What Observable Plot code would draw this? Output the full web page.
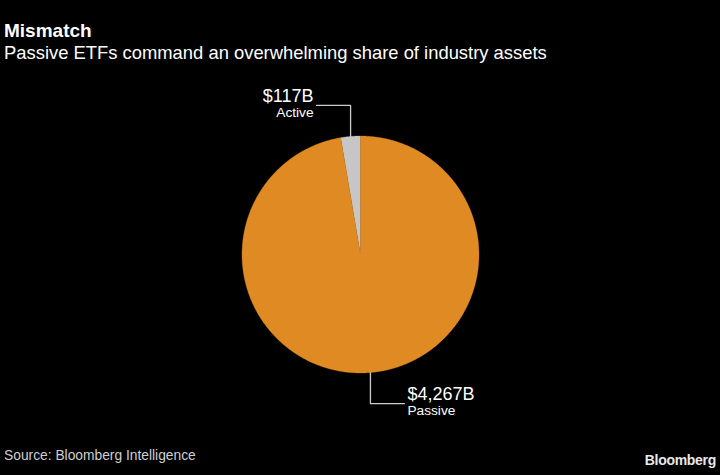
<!DOCTYPE html>
<html><head><meta charset="utf-8">
<script src="https://cdn.jsdelivr.net/npm/d3@7"></script>
<script src="https://cdn.jsdelivr.net/npm/@observablehq/plot@0.6"></script>
<style>
html,body{margin:0;padding:0;background:#000;}
body{width:720px;height:475px;overflow:hidden;font-family:"Liberation Sans",Arial,sans-serif;color:#fff;}
#head{height:68px;position:relative;}
#title{position:absolute;left:4px;top:21px;font-weight:bold;font-size:19px;line-height:19px;white-space:nowrap;}
#sub{position:absolute;left:4px;top:43.5px;font-size:18.4px;line-height:18.4px;white-space:nowrap;}
#chart{height:372px;}
#foot{height:35px;position:relative;}
#src{position:absolute;left:4px;top:9.3px;font-size:13.8px;line-height:13.8px;color:#cfcfcf;white-space:nowrap;}
#logo{position:absolute;right:4px;top:13px;font-size:14px;line-height:14px;font-weight:bold;color:#e8e8e8;letter-spacing:-0.3px;white-space:nowrap;}
</style></head>
<body>
<div id="head"><div id="title">Mismatch</div><div id="sub">Passive ETFs command an overwhelming share of industry assets</div></div>
<div id="chart"></div>
<div id="foot"><div id="src">Source: Bloomberg Intelligence</div><div id="logo">Bloomberg</div></div>
<script>
const categories = ["Active", "Passive"];
const values = [117, 4267];
const valueLabels = ["$117B", "$4,267B"];
const colors = ["#c6c6c6", "#df8a22"];

const W = 720, H = 372, cx = 360, cy = 186, r = 118.5;
const vLen = 31, hLen = 34;
const total = d3.sum(values);
let a0 = -values[0] / total * 2 * Math.PI;
const slicePts = [], leaders = [], texts = [];
values.forEach((v, i) => {
  const cat = categories[i];
  const a1 = a0 + v / total * 2 * Math.PI;
  const n = Math.max(4, Math.ceil((a1 - a0) / 0.005));
  slicePts.push({cat, x: cx, y: cy});
  for (let k = 0; k <= n; k++) {
    const a = a0 + (a1 - a0) * k / n;
    slicePts.push({cat, x: cx + r * Math.sin(a), y: cy - r * Math.cos(a)});
  }
  slicePts.push({cat, x: cx, y: cy});
  const m = (a0 + a1) / 2;
  const px = cx + r * Math.sin(m), py = cy - r * Math.cos(m);
  const vd = Math.cos(m) > 0 ? -1 : 1, hd = Math.sin(m) < 0 ? -1 : 1;
  const ey = py + vd * vLen, ex = px + hd * hLen;
  leaders.push({cat, x: px, y: py}, {cat, x: px, y: ey}, {cat, x: ex, y: ey});
  const tx = ex + hd * 3, anchor = hd < 0 ? "end" : "start";
  texts.push({text: valueLabels[i], x: tx, y: ey - 3.5 - 0.32 * 18, fs: 18, anchor});
  texts.push({text: cat, x: tx, y: ey + 11.5 - 0.32 * 13.7, fs: 13.7, anchor});
  a0 = a1;
});

const font = '"Liberation Sans", Arial, sans-serif';
const mk = (t) => Plot.text([t], {x: "x", y: "y", text: "text", textAnchor: t.anchor, fontSize: t.fs, lineAnchor: "middle", fill: "#ffffff", fontFamily: font});

const chart = Plot.plot({
  width: W, height: H,
  margin: 0,
  x: {domain: [0, W], range: [0, W], axis: null},
  y: {domain: [0, H], range: [0, H], axis: null},
  color: {domain: categories, range: colors},
  style: {background: "#000", fontFamily: font},
  marks: [
    Plot.line(slicePts, {x: "x", y: "y", z: "cat", fill: "cat", stroke: "cat", strokeWidth: 0.3, curve: "linear"}),
    Plot.line(leaders, {x: "x", y: "y", z: "cat", stroke: "#cccccc", strokeWidth: 1.3}),
    ...texts.map(mk)
  ]
});
document.getElementById("chart").appendChild(chart);
</script>
</body></html>
